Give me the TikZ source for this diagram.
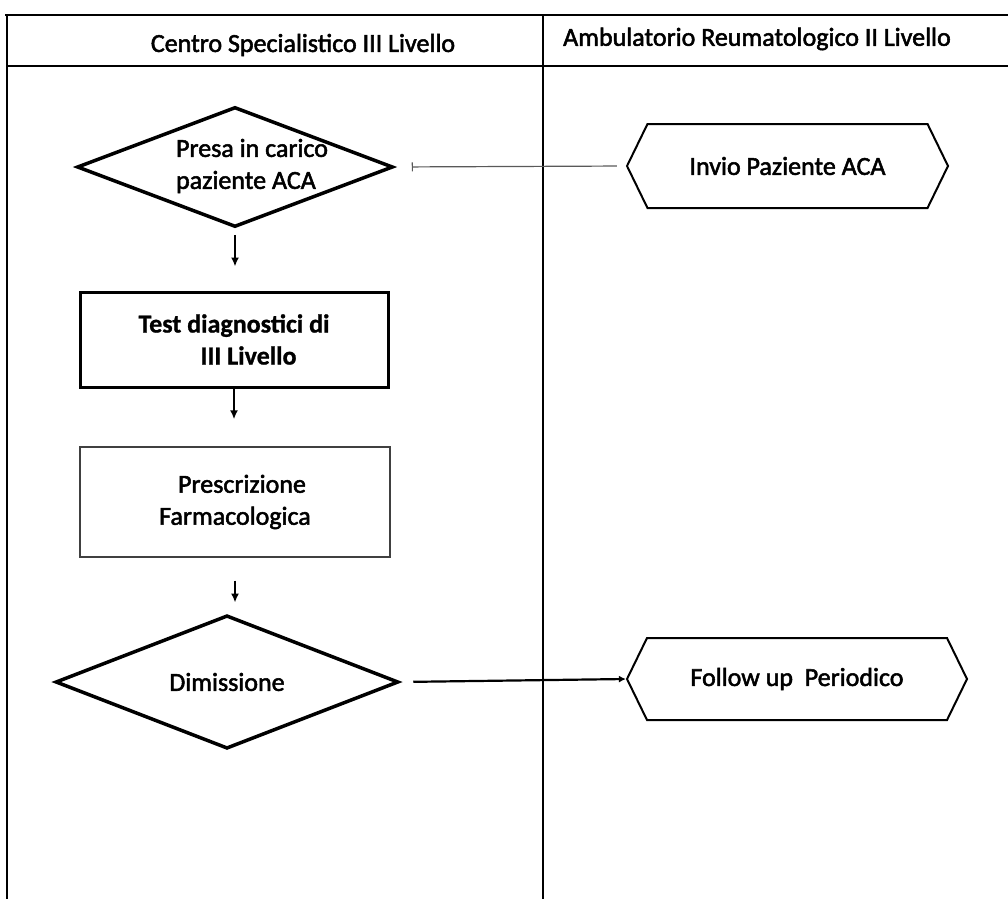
\documentclass[tikz,border=0pt]{standalone}
\usepackage{fontspec}
\setmainfont{Carlito}
\newfontfamily\lbl{Carlito}[FakeBold=2]
\newfontfamily\lblheavy{Carlito}[UprightFont=* Bold, FakeBold=1]
\usetikzlibrary{shapes.geometric,shapes.symbols,arrows.meta}

\tikzset{
  laneline/.style={line width=2.5pt, black},
  lanesep/.style={line width=1.5pt, black},
  decision/.style={diamond, draw, line width=3.5pt, inner sep=0pt, align=center},
  heavybox/.style={rectangle, draw, line width=3pt, inner sep=0pt, align=left},
  lightbox/.style={rectangle, draw=black!75, line width=1.4pt, inner sep=0pt, align=center},
  hexbox/.style={signal, signal to=west and east, signal pointer angle=128,
                 draw, line width=2pt, inner sep=0pt},
  flowarrow/.style={line width=1.8pt, -{Latex[length=9pt,width=8pt]}},
  txt/.style={inner sep=0pt, align=left}
}

\begin{document}
\begin{tikzpicture}[x=1pt, y=-1pt, font=\lbl\fontsize{26}{32}\selectfont]
\useasboundingbox (0,0) rectangle (1008,899);

% swimlane frame
\draw[laneline] (5,15) -- (1008,15);
\draw[laneline] (7,66) -- (1008,66);
\draw[lanesep] (7,15) -- (7,899);
\draw[lanesep] (543,15) -- (543,899);

% lane headers
\node (h1) at (303,45) {Centro Specialistico III Livello};
\node (h2) at (757,39) {Ambulatorio Reumatologico II Livello};

% left lane: flow steps
\node[decision, minimum width=316pt, minimum height=120pt] (d1) at (235,167) {};
\node[txt] (d1t) at (252,166) {Presa in carico\\paziente ACA};

\node[heavybox, minimum width=308pt, minimum height=95pt, font=\lblheavy\fontsize{26}{32}\selectfont]
  (t) at (234,339.5) {Test diagnostici di\\\hspace{62pt}III Livello};

\node[lightbox, minimum width=310pt, minimum height=110pt] (p) at (235,502)
  {\hspace{14pt}Prescrizione\\Farmacologica};

\node[decision, minimum width=343pt, minimum height=119pt] (d2) at (227,682) {Dimissione};

% right lane
\node[hexbox, minimum width=321pt, minimum height=84pt] (inv) at (787.5,166) {Invio Paziente ACA};
\node[hexbox, minimum width=340pt, minimum height=82pt] (fol) at (797,679) {Follow up\ \ Periodico};

% connectors
\draw[flowarrow, shorten <=6pt, shorten >=24pt] (d1.south) -- (d1.south |- t.north);
\draw[flowarrow, shorten >=27pt] (t.south) -- (t.south |- p.north);
\draw[flowarrow, shorten <=23pt, shorten >=11pt] (p.south) -- (p.south |- d2.north);

\draw[black!65, line width=1.2pt, {Bar[width=9pt]}-, shorten <=17pt, shorten >=9pt]
  (d1.east) -- (inv.west);
\draw[line width=2.2pt, -{Latex[length=7pt,width=7pt]}, shorten <=13pt]
  (d2.east) -- (fol.west);
\end{tikzpicture}
\end{document}
